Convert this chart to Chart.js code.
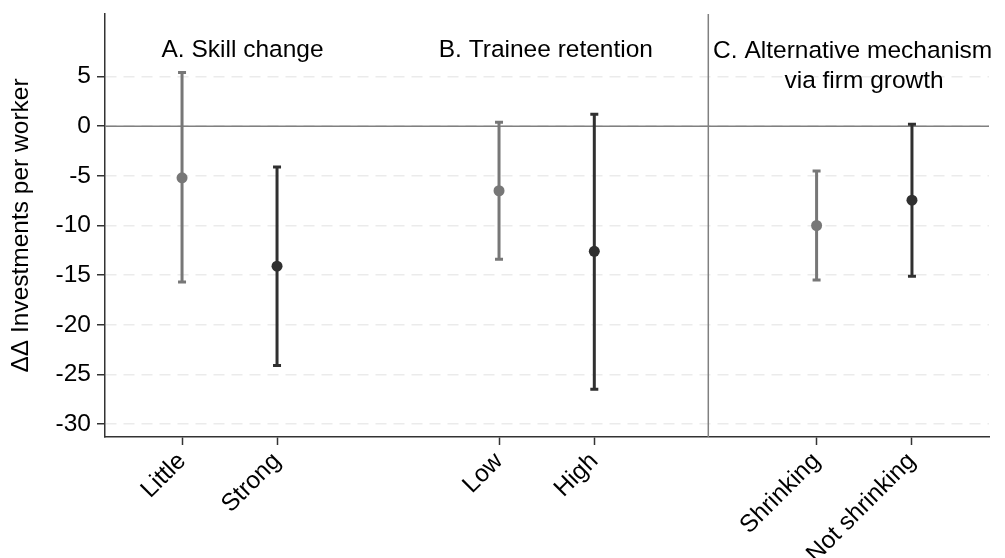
<!DOCTYPE html>
<html>
<head>
<meta charset="utf-8">
<script src="https://cdn.jsdelivr.net/npm/chart.js@4"></script>
<style>
  html, body { margin: 0; padding: 0; background: #fff; }
  #wrap { width: 1005px; height: 558px; }
</style>
</head>
<body>
<div id="wrap"><canvas id="coefChart" width="1005" height="558"></canvas></div>
<script>
// categories and their spot on the x axis
const categories = ['Little', 'Strong', 'Low', 'High', 'Shrinking', 'Not shrinking'];
const xPositions = [1, 2, 4.337, 5.34, 7.68, 8.684];

// point estimates and 95% CI
const estimates = [-5.2, -14.1, -6.5, -12.6, -10.0, -7.45];
const ciLow = [-15.7, -24.1, -13.4, -26.5, -15.5, -15.1];
const ciHigh = [5.4, -4.1, 0.4, 1.2, -4.5, 0.2];

const yTicks = [5, 0, -5, -10, -15, -20, -25, -30];

const LIGHT = '#777777';
const DARK = '#303030';
const markColors = [LIGHT, DARK, LIGHT, DARK, LIGHT, DARK];

const FONT = "'Liberation Sans', Arial, sans-serif";
const FSIZE = 24.5;

// panel headings (data coords)
const panelTitles = [
    { text: 'A. Skill change', x: 1.637, y: 7.0 },
    { text: 'B. Trainee retention', x: 4.83, y: 7.0 },
    { text: 'C. Alternative mechanism', x: 8.06, y: 6.84 },
    { text: 'via firm growth', x: 8.18, y: 3.86 }
];
const separatorX = 6.54;

const refLines = {
    id: 'refLines',
    beforeDatasetsDraw(chart) {
        const { ctx, chartArea, scales: { x, y } } = chart;
        ctx.save();
        ctx.strokeStyle = '#808080';
        ctx.lineWidth = 1.5;
        ctx.beginPath();
        const y0 = y.getPixelForValue(0);
        ctx.moveTo(chartArea.left, y0);
        ctx.lineTo(chartArea.right, y0);
        const xs = x.getPixelForValue(separatorX);
        ctx.moveTo(xs, chartArea.top);
        ctx.lineTo(xs, chartArea.bottom);
        ctx.stroke();

        // whiskers
        ctx.lineWidth = 3;
        categories.forEach((_, i) => {
            const px = x.getPixelForValue(xPositions[i]);
            const top = y.getPixelForValue(ciHigh[i]);
            const bot = y.getPixelForValue(ciLow[i]);
            ctx.strokeStyle = markColors[i];
            ctx.beginPath();
            ctx.moveTo(px, top);
            ctx.lineTo(px, bot);
            ctx.moveTo(px - 4, top);
            ctx.lineTo(px + 4, top);
            ctx.moveTo(px - 4, bot);
            ctx.lineTo(px + 4, bot);
            ctx.stroke();
        });
        ctx.restore();
    },
    afterDraw(chart) {
        const { ctx, scales: { x, y } } = chart;
        ctx.save();
        ctx.fillStyle = '#000';
        ctx.font = FSIZE + 'px ' + FONT;
        ctx.textAlign = 'center';
        ctx.textBaseline = 'alphabetic';
        panelTitles.forEach(t => {
            ctx.fillText(t.text, x.getPixelForValue(t.x), y.getPixelForValue(t.y));
        });
        ctx.restore();
    }
};

new Chart(document.getElementById('coefChart'), {
    type: 'scatter',
    data: {
        datasets: [{
            data: xPositions.map((v, i) => ({ x: v, y: estimates[i] })),
            pointBackgroundColor: markColors,
            pointBorderColor: markColors,
            pointRadius: 5.5,
            pointHoverRadius: 5.5,
            borderWidth: 0
        }]
    },
    options: {
        responsive: false,
        animation: false,
        events: [],
        layout: { padding: { top: 14, right: 16, left: 0, bottom: 0 } },
        plugins: { legend: { display: false }, tooltip: { enabled: false } },
        scales: {
            x: {
                type: 'linear',
                min: 0.189,
                max: 9.495,
                afterBuildTicks: (s) => { s.ticks = xPositions.map(v => ({ value: v })); },
                afterFit: (s) => { s.height = 121; s.paddingLeft = 0; s.paddingRight = 0; },
                ticks: {
                    autoSkip: false,
                    minRotation: 45,
                    maxRotation: 45,
                    padding: 2,
                    color: '#000',
                    font: { family: FONT, size: FSIZE },
                    callback: (v) => categories[xPositions.indexOf(v)]
                },
                grid: { drawOnChartArea: false, drawTicks: true, tickLength: 8, tickColor: '#333', tickWidth: 1.5 },
                border: { color: '#333', width: 1.5 }
            },
            y: {
                min: -31.3,
                max: 11.3,
                afterBuildTicks: (s) => { s.ticks = yTicks.map(v => ({ value: v })); },
                afterFit: (s) => { s.width = 105; s.paddingTop = 0; s.paddingBottom = 0; },
                ticks: {
                    padding: 6,
                    color: '#000',
                    font: { family: FONT, size: FSIZE }
                },
                grid: { color: '#ebebeb', lineWidth: 1.5, drawTicks: true, tickLength: 8, tickColor: '#333', tickWidth: 1.5 },
                border: { color: '#333', width: 1.5, dash: [11, 7] },
                title: {
                    display: true,
                    text: 'ΔΔ Investments per worker',
                    color: '#000',
                    font: { family: FONT, size: FSIZE },
                    padding: { top: 7, bottom: 0 }
                }
            }
        }
    },
    plugins: [refLines]
});
</script>
</body>
</html>
